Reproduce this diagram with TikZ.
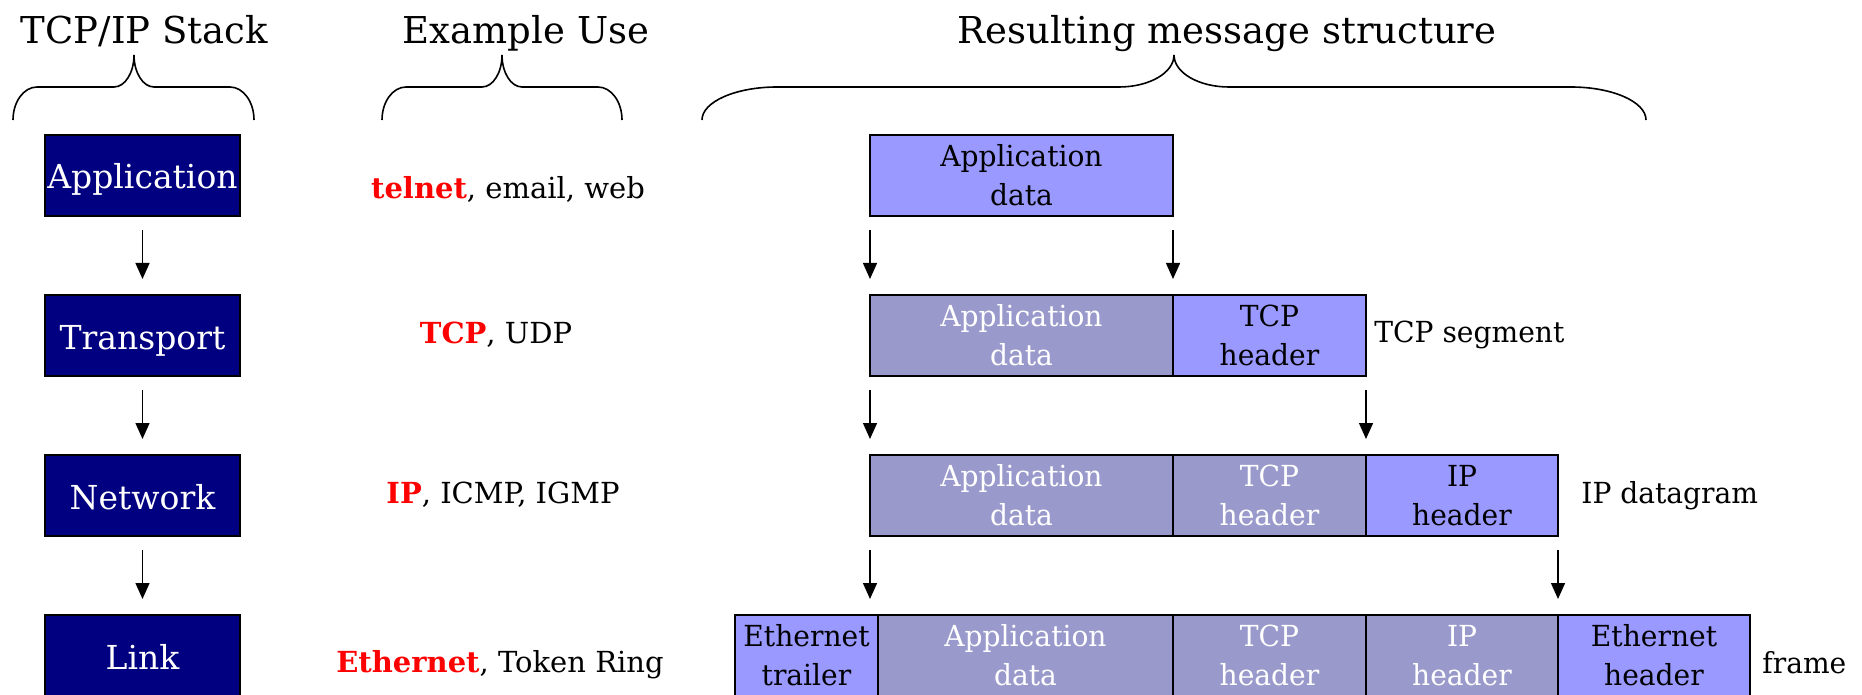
\documentclass[tikz,border=0pt]{standalone}
\usepackage{fontspec}
\setmainfont{DejaVu Serif}
\newfontfamily\cellfont{DejaVu Serif}[FakeStretch=0.97]
\usetikzlibrary{arrows.meta}

\definecolor{navy}{HTML}{000080}
\definecolor{lite}{HTML}{9999FF}
\definecolor{dull}{HTML}{9999CC}

% curly brace opening downwards: left end, tip, right end, corner radius, tip radius
\newcommand{\curlybrace}[5]{%
  \draw[bracestyle] (#1,-120) .. controls (#1,-101.8) and ({#1+0.448*#4},-87) .. ({#1+#4},-87)
    -- ({#2-#5},-87) .. controls ({#2-0.448*#5},-87) and (#2,-72.7) .. (#2,-55)
    .. controls (#2,-72.7) and ({#2+0.448*#5},-87) .. ({#2+#5},-87)
    -- ({#3-#4},-87) .. controls ({#3-0.448*#4},-87) and (#3,-101.8) .. (#3,-120);
}

\begin{document}
\begin{tikzpicture}[x=0.5pt,y=0.5pt,
  bracestyle/.style={line width=0.8pt},
  title/.style={font=\fontsize{18.5pt}{22pt}\selectfont, inner sep=0pt},
  layer/.style={draw=black, fill=navy, text=white, line width=1pt,
    minimum width=97.5pt, minimum height=40.5pt, inner sep=0pt, outer sep=0pt,
    text height=13.5pt, text depth=0pt, font=\fontsize{16.5pt}{20pt}\selectfont},
  usage/.style={font=\fontsize{14.5pt}{18pt}\selectfont, inner sep=0pt},
  cell/.style={draw=black, line width=1pt, minimum height=40.5pt, inner sep=0pt,
    outer sep=0pt, align=center, font=\cellfont\fontsize{14.5pt}{19.5pt}\selectfont},
  new/.style={cell, fill=lite, text=black},
  old/.style={cell, fill=dull, text=white},
  tag/.style={font=\cellfont\fontsize{14.5pt}{18pt}\selectfont, inner sep=0pt},
  arr/.style={-{Triangle[length=8pt,width=7pt]}, line width=0.7pt,
    shorten <=7pt, shorten >=8pt}]
\useasboundingbox (0,0) rectangle (1862,-695);

% column titles and braces
\node[title, anchor=base] (tstack) at (144.5,-44) {TCP/IP Stack};
\node[title, anchor=base] (tuse) at (526,-44) {Example Use};
\node[title, anchor=base] (tmsg) at (1227,-44) {Resulting message structure};
\curlybrace{13}{134}{254}{24}{20}
\curlybrace{382}{502}{622}{24}{20}
\curlybrace{702}{1174}{1646}{75}{55}

% protocol layers
\node[layer] (lapp) at (142.5,-175.5) {Application};
\node[layer] (ltra) at (142.5,-335.5) {Transport};
\node[layer] (lnet) at (142.5,-495.5) {Network};
\node[layer] (llnk) at (142.5,-655.5) {Link};
\draw[arr] (lapp) -- (ltra);
\draw[arr] (ltra) -- (lnet);
\draw[arr] (lnet) -- (llnk);

% example protocols
\node[usage, anchor=base] (uapp) at (508,-199) {\textcolor{red}{\textbf{telnet}}, email, web};
\node[usage, anchor=base] (utra) at (496,-343) {\textcolor{red}{\textbf{TCP}}, UDP};
\node[usage, anchor=base] (unet) at (503,-503) {\textcolor{red}{\textbf{IP}}, ICMP, IGMP};
\node[usage, anchor=base] (ulnk) at (500,-672) {\textcolor{red}{\textbf{Ethernet}}, Token Ring};

% application data
\node[new, minimum width=151.5pt] (aapp) at (1021.5,-175.5) {Application\\data};

% TCP segment
\node[old, minimum width=151.5pt] (sapp) at (1021.5,-335.5) {Application\\data};
\node[new, minimum width=96.5pt] (stcp) at (1269.5,-335.5) {TCP\\header};
\node[tag, anchor=base west] (lseg) at (1374,-342) {TCP segment};

% IP datagram
\node[old, minimum width=151.5pt] (dapp) at (1021.5,-495.5) {Application\\data};
\node[old, minimum width=96.5pt] (dtcp) at (1269.5,-495.5) {TCP\\header};
\node[new, minimum width=96pt] (dip) at (1462,-495.5) {IP\\header};
\node[tag, anchor=base west] (ldgm) at (1581,-503) {IP datagram};

% frame
\node[new, minimum width=71.5pt] (ftrl) at (806.5,-655.5) {Ethernet\\trailer};
\node[old, minimum width=147.5pt] (fapp) at (1025.5,-655.5) {Application\\data};
\node[old, minimum width=96.5pt] (ftcp) at (1269.5,-655.5) {TCP\\header};
\node[old, minimum width=96pt] (fip) at (1462,-655.5) {IP\\header};
\node[new, minimum width=96pt] (fhdr) at (1654,-655.5) {Ethernet\\header};
\node[tag, anchor=base west] (lfrm) at (1762,-673) {frame};

% encapsulation arrows
\draw[arr] (aapp.south west) -- (sapp.north west);
\draw[arr] (aapp.south east) -- (stcp.north west);
\draw[arr] (sapp.south west) -- (dapp.north west);
\draw[arr] (stcp.south east) -- (dip.north west);
\draw[arr] (dapp.south west) -- (dapp.south west |- fapp.north);
\draw[arr] (dip.south east) -- (fhdr.north west);
\end{tikzpicture}
\end{document}
